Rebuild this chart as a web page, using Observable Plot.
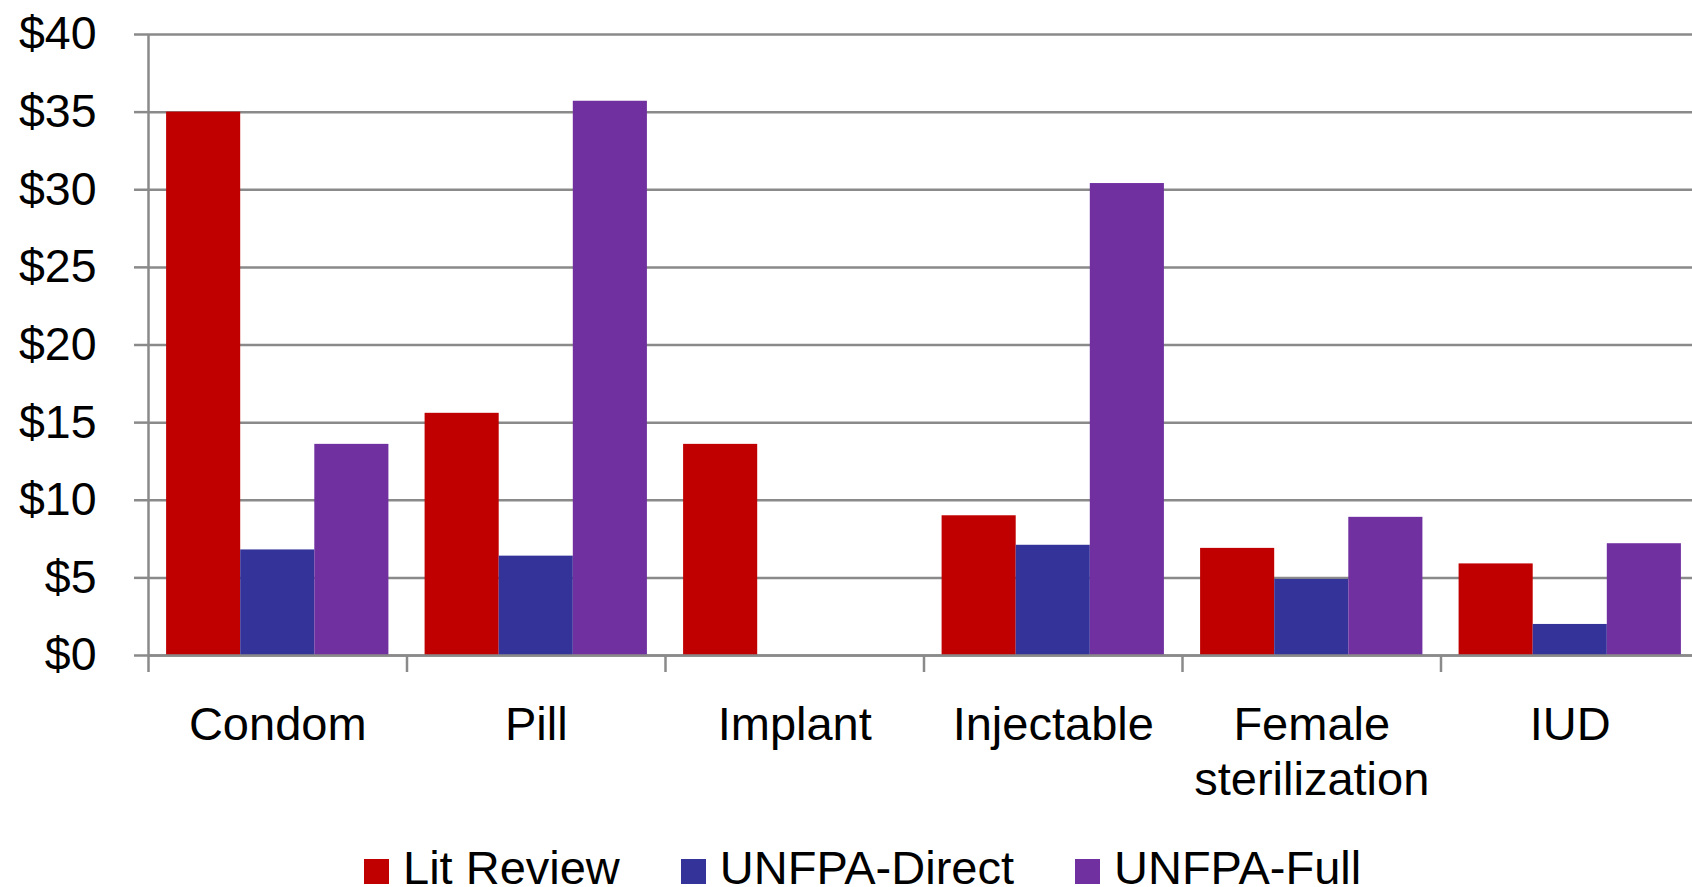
<!DOCTYPE html>
<html>
<head>
<meta charset="utf-8">
<script src="https://cdn.jsdelivr.net/npm/d3@7"></script>
<script src="https://cdn.jsdelivr.net/npm/@observablehq/plot@0.6"></script>
<style>
  html, body { margin: 0; padding: 0; background: #fff; overflow: hidden; }
  #chart { width: 1692px; }
  .legend { display: flex; align-items: baseline; padding-left: 364px; margin-top: -3px; font-family: "Liberation Sans", Arial, sans-serif; font-size: 47px; line-height: 47px; color: #000; white-space: nowrap; }
  .legend .item { display: flex; align-items: baseline; margin-right: 61px; }
  .legend .sw { display: inline-block; width: 25px; height: 25px; margin-right: 14px; }
</style>
</head>
<body>
<div id="chart"></div>
<script>
// ---- data ----
const categories = ["Condom", "Pill", "Implant", "Injectable", "Female\nsterilization", "IUD"];
const series = ["Lit Review", "UNFPA-Direct", "UNFPA-Full"];
const litReview   = [35.0, 15.6, 13.6, 9.0, 6.9, 5.9];
const unfpaDirect = [6.8, 6.4, null, 7.1, 4.9, 2.0];
const unfpaFull   = [13.6, 35.7, null, 30.4, 8.9, 7.2];
const yTicks = [0, 5, 10, 15, 20, 25, 30, 35, 40];
const colors = ["#C00000", "#333399", "#7030A0"];

// ---- layout constants ----
const groupPad = 0.07;                       // gap at each side of a category group (fraction of band)
const barW = (1 - 2 * groupPad) / series.length;
const gridColor = "#8a8a8a";
const font = "'Liberation Sans', Arial, sans-serif";

const valuesBySeries = [litReview, unfpaDirect, unfpaFull];
const rows = categories.flatMap((c, i) =>
  series.map((s, k) => ({i, k, category: c, series: s, value: valuesBySeries[k][i]}))
).filter(d => d.value != null);

const boundaries = d3.range(categories.length + 1);
const centers = d3.range(categories.length).map(i => i + 0.5);

const plot = Plot.plot({
  width: 1692,
  height: 847,
  marginLeft: 148,
  marginRight: 0,
  marginTop: 34,
  marginBottom: 192,
  style: {fontFamily: font, background: "#fff", overflow: "hidden"},
  x: {domain: [0, categories.length], range: [148, 1699], axis: null},
  y: {domain: [0, 40], axis: null},
  color: {domain: series, range: colors},
  marks: [
    Plot.gridY(yTicks, {stroke: gridColor, strokeOpacity: 1, strokeWidth: 2.5}),
    Plot.axisY({ticks: yTicks, tickSize: 14, tickPadding: 38, stroke: gridColor, strokeWidth: 2.5,
      color: "#000", fontSize: 46.5, tickFormat: d => "$" + d, label: null}),
    Plot.rect(rows, {
      x1: d => d.i + groupPad + d.k * barW,
      x2: d => d.i + groupPad + (d.k + 1) * barW,
      y1: 0, y2: "value", fill: "series"
    }),
    Plot.ruleY([0], {stroke: gridColor, strokeWidth: 2.5}),
    Plot.ruleX([0], {y1: 0, y2: 40, stroke: gridColor, strokeWidth: 2.5}),
    Plot.axisX({ticks: boundaries, tickSize: 17, tickFormat: () => "", stroke: gridColor, strokeWidth: 2.5, label: null}),
    Plot.axisX({ticks: centers, tickSize: 0, tickPadding: 45, fontSize: 47, lineHeight: 1.17, color: "#000",
      tickFormat: d => categories[Math.floor(d)], label: null})
  ]
});
document.getElementById("chart").appendChild(plot);

// ---- legend (HTML, below the SVG) ----
const legend = d3.select("body").append("div").attr("class", "legend");
series.forEach((s, k) => {
  const it = legend.append("div").attr("class", "item");
  it.append("span").attr("class", "sw").style("background", colors[k]);
  it.append("span").text(s);
});
</script>
</body>
</html>
